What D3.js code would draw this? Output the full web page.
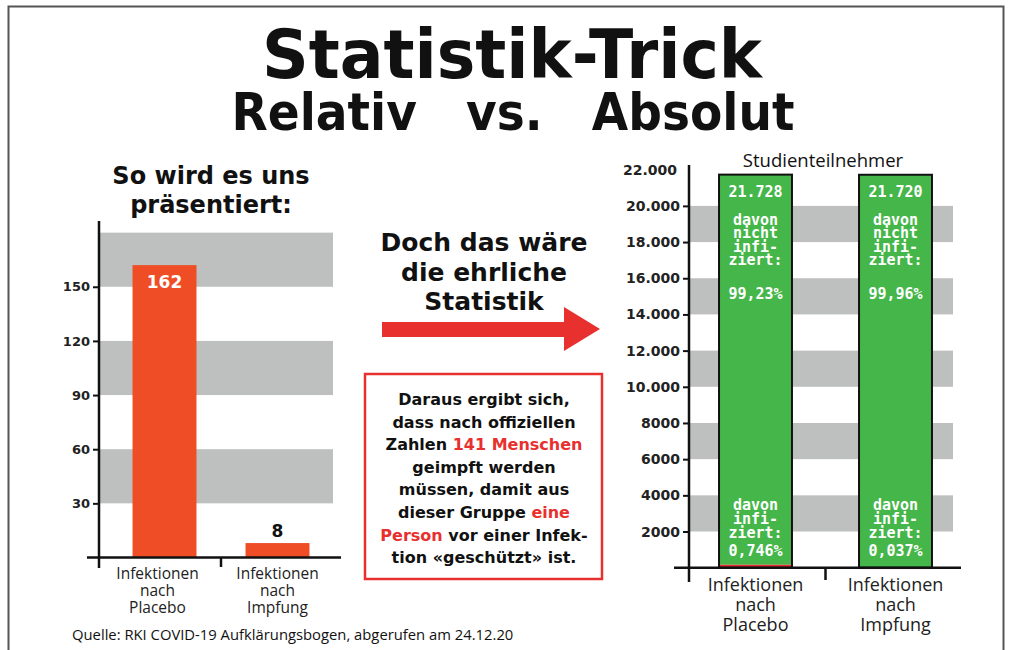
<!DOCTYPE html>
<html lang="de">
<head>
<meta charset="UTF-8">
<title>Statistik-Trick</title>
<script src="https://d3js.org/d3.v7.min.js"></script>
<style>
  body { margin: 0; background: #fff; }
  svg { display: block; }
  .tl { font-family: 'DejaVu Sans', Verdana, sans-serif; font-weight: bold; fill: #111; }
  .cat { font-family: 'Open Sans', sans-serif; fill: #222; }
  .mono { font-family: 'DejaVu Sans Mono', monospace; font-weight: bold; fill: #fff; }
</style>
</head>
<body>
<svg id="chart" width="1009" height="650"></svg>
<script>
// left chart: relative view
const catsLeft = ["Infektionen|nach|Placebo", "Infektionen|nach|Impfung"];
const infections = [162, 8];
const leftTicks = [30, 60, 90, 120, 150];
const leftBands = [[30, 60], [90, 120], [150, 180]];

// right chart: absolute view
const participants = [21728, 21720];
const participantLabels = ["21.728", "21.720"];
const notInfectedPct = ["99,23%", "99,96%"];
const infectedPct = ["0,746%", "0,037%"];
const rightTicks = [2000, 4000, 6000, 8000, 10000, 12000, 14000, 16000, 18000, 20000, 22000];
const rightBands = [[2000, 4000], [6000, 8000], [10000, 12000], [14000, 16000], [18000, 20000]];

const boxLines = [
  [["Daraus ergibt sich,", 0]],
  [["dass nach offiziellen", 0]],
  [["Zahlen ", 0], ["141 Menschen", 1]],
  [["geimpft werden", 0]],
  [["müssen, damit aus", 0]],
  [["dieser Gruppe ", 0], ["eine", 1]],
  [["Person", 1], [" vor einer Infek-", 0]],
  [["tion «geschützt» ist.", 0]]
];

const RED = "#e8302f", ORANGE = "#ef4d26", GRAY = "#bec0c0", GREEN = "#45b649";

const svg = d3.select("#chart");

// frame
svg.append("rect").attr("x", 8.5).attr("y", 6.5).attr("width", 995).attr("height", 700)
  .attr("fill", "none").attr("stroke", "#555").attr("stroke-width", 2);

// titles
svg.append("text").attr("class", "tl").attr("x", 512).attr("y", 78)
  .attr("text-anchor", "middle").style("font-size", "68px")
  .attr("textLength", 500).attr("lengthAdjust", "spacingAndGlyphs")
  .text("Statistik-Trick");
svg.append("text").attr("class", "tl").attr("x", 513).attr("y", 130)
  .attr("text-anchor", "middle").style("font-size", "52px").style("white-space", "pre")
  .attr("textLength", 563).attr("lengthAdjust", "spacingAndGlyphs")
  .text("Relativ   vs.   Absolut");

// ---------- left chart ----------
const yL = d3.scaleLinear().domain([0, 186]).range([557.5, 221.8]);
const xL = d3.scaleBand().domain(catsLeft).range([108, 334]).paddingInner(0.434).paddingOuter(0.217);

const gL = svg.append("g");
gL.selectAll("rect.band").data(leftBands).join("rect")
  .attr("x", 100).attr("width", 233)
  .attr("y", d => yL(d[1])).attr("height", d => yL(d[0]) - yL(d[1]))
  .attr("fill", GRAY);

gL.selectAll("rect.bar").data(infections).join("rect")
  .attr("x", (d, i) => xL(catsLeft[i])).attr("width", xL.bandwidth())
  .attr("y", d => yL(d)).attr("height", d => yL(0) - yL(d))
  .attr("fill", ORANGE);

gL.selectAll("text.val").data(infections).join("text")
  .attr("class", "tl")
  .attr("x", (d, i) => xL(catsLeft[i]) + xL.bandwidth() / 2)
  .attr("y", d => d > 50 ? yL(d) + 23 : yL(d) - 6)
  .attr("text-anchor", "middle").style("font-size", "17px")
  .style("fill", d => d > 50 ? "#fff" : "#111")
  .text(d => d);

const axL = gL.append("g").attr("transform", "translate(99,0)")
  .call(d3.axisLeft(yL).tickValues(leftTicks).tickSize(6).tickPadding(3));
axL.select(".domain").remove();
axL.selectAll("line").attr("stroke", "#111").attr("stroke-width", 2);
axL.selectAll("text").attr("class", "tl").style("font-size", "13px").style("fill", "#222");

gL.append("line").attr("x1", 99).attr("x2", 99).attr("y1", 221).attr("y2", 568)
  .attr("stroke", "#111").attr("stroke-width", 2.5);
gL.append("line").attr("x1", 87).attr("x2", 341).attr("y1", yL(0)).attr("y2", yL(0))
  .attr("stroke", "#111").attr("stroke-width", 2.5);
const midL = xL(catsLeft[0]) + xL.bandwidth() + xL.step() * 0.434 / 2;
gL.append("line").attr("x1", midL).attr("x2", midL)
  .attr("y1", yL(0)).attr("y2", 567).attr("stroke", "#111").attr("stroke-width", 2.5);

// labels sit a little left of the bar centre in the original
catsLeft.forEach((c, i) => {
  const t = gL.append("text").attr("class", "cat").attr("text-anchor", "middle")
    .style("font-size", "15.5px");
  c.split("|").forEach((line, j) => {
    t.append("tspan").attr("x", xL(c) + xL.bandwidth() / 2 - (i === 0 ? 7 : 0))
      .attr("y", 579 + j * 17).text(line);
  });
});

// left heading
["So wird es uns", "präsentiert:"].forEach((s, j) => {
  svg.append("text").attr("class", "tl").attr("x", 211).attr("y", 184 + j * 29)
    .attr("text-anchor", "middle").style("font-size", "24px").text(s);
});

// ---------- middle ----------
["Doch das wäre", "die ehrliche", "Statistik"].forEach((s, j) => {
  svg.append("text").attr("class", "tl").attr("x", 484).attr("y", 251 + j * 29.5)
    .attr("text-anchor", "middle").style("font-size", "25px").text(s);
});
svg.append("path")
  .attr("d", "M382,322 L564,322 L564,307 L600,329 L564,351 L564,337 L382,337 Z")
  .attr("fill", RED);

svg.append("rect").attr("x", 365).attr("y", 374).attr("width", 237).attr("height", 205)
  .attr("fill", "#fff").attr("stroke", RED).attr("stroke-width", 2.5);
boxLines.forEach((parts, j) => {
  const t = svg.append("text").attr("class", "tl").attr("x", 484).attr("y", 405 + j * 22.6)
    .attr("text-anchor", "middle").style("font-size", "16px").style("white-space", "pre");
  parts.forEach(p => t.append("tspan").style("fill", p[1] ? RED : "#111").text(p[0]));
});

// ---------- right chart ----------
const yR = d3.scaleLinear().domain([0, 22000]).range([567.7, 169.7]);
const xR = d3.scaleBand().domain(catsLeft).range([685.5, 965.5]).paddingInner(0.479).paddingOuter(0.2395);

const gR = svg.append("g");
gR.selectAll("rect.band").data(rightBands).join("rect")
  .attr("x", 690).attr("width", 263)
  .attr("y", d => yR(d[1])).attr("height", d => yR(d[0]) - yR(d[1]))
  .attr("fill", GRAY);

participants.forEach((total, i) => {
  const x0 = xR(catsLeft[i]), w = xR.bandwidth();
  gR.append("rect").attr("x", x0).attr("width", w)
    .attr("y", yR(total)).attr("height", yR(infections[i]) - yR(total))
    .attr("fill", GREEN);
  gR.append("rect").attr("x", x0).attr("width", w)
    .attr("y", yR(infections[i])).attr("height", Math.max(1.5, yR(0) - yR(infections[i])))
    .attr("fill", RED);
  gR.append("rect").attr("x", x0).attr("width", w)
    .attr("y", yR(total)).attr("height", yR(0) - yR(total))
    .attr("fill", "none").attr("stroke", "#111").attr("stroke-width", 2);

  const cx = x0 + w / 2, top = yR(total);
  const topLines = [[participantLabels[i], 22], ["davon", 50], ["nicht", 63.5], ["infi-", 77], ["ziert:", 90.5], [notInfectedPct[i], 124]];
  topLines.forEach(l => gR.append("text").attr("class", "mono").attr("x", cx).attr("y", top + l[1])
    .attr("text-anchor", "middle").style("font-size", "15px").text(l[0]));
  const botLines = [["davon", -58], ["infi-", -44], ["ziert:", -29.5], [infectedPct[i], -12]];
  botLines.forEach(l => gR.append("text").attr("class", "mono").attr("x", cx).attr("y", yR(0) + l[1])
    .attr("text-anchor", "middle").style("font-size", "15px").text(l[0]));
});

const fmtR = d => d >= 10000 ? d3.format(",")(d).replace(",", ".") : String(d);
const axR = gR.append("g").attr("transform", "translate(689,0)")
  .call(d3.axisLeft(yR).tickValues(rightTicks).tickSize(6).tickPadding(3).tickFormat(fmtR));
axR.select(".domain").remove();
axR.selectAll("line").attr("stroke", "#111").attr("stroke-width", 2)
  .attr("opacity", d => d === 22000 ? 0 : 1);
axR.selectAll("text").attr("class", "tl").style("font-size", "14px").style("fill", "#222")
  .attr("x", d => d === 22000 ? -12 : -9);

gR.append("line").attr("x1", 689).attr("x2", 689).attr("y1", 165).attr("y2", 582)
  .attr("stroke", "#111").attr("stroke-width", 2.5);
gR.append("line").attr("x1", 674).attr("x2", 961).attr("y1", yR(0)).attr("y2", yR(0))
  .attr("stroke", "#111").attr("stroke-width", 2.5);
const midR = xR(catsLeft[0]) + xR.bandwidth() + xR.step() * 0.479 / 2;
gR.append("line").attr("x1", midR).attr("x2", midR).attr("y1", yR(0)).attr("y2", 580)
  .attr("stroke", "#111").attr("stroke-width", 2.5);

gR.append("text").attr("class", "cat").attr("x", 823).attr("y", 167)
  .attr("text-anchor", "middle").style("font-size", "18.5px").style("fill", "#111")
  .text("Studienteilnehmer");

catsLeft.forEach(c => {
  const t = gR.append("text").attr("class", "cat").attr("text-anchor", "middle")
    .style("font-size", "18px");
  c.split("|").forEach((line, j) => {
    t.append("tspan").attr("x", xR(c) + xR.bandwidth() / 2).attr("y", 591 + j * 20).text(line);
  });
});

// source
svg.append("text").attr("class", "cat").attr("x", 72).attr("y", 640)
  .style("font-size", "14.8px").style("fill", "#111")
  .text("Quelle: RKI COVID-19 Aufklärungsbogen, abgerufen am 24.12.20");
</script>
</body>
</html>
